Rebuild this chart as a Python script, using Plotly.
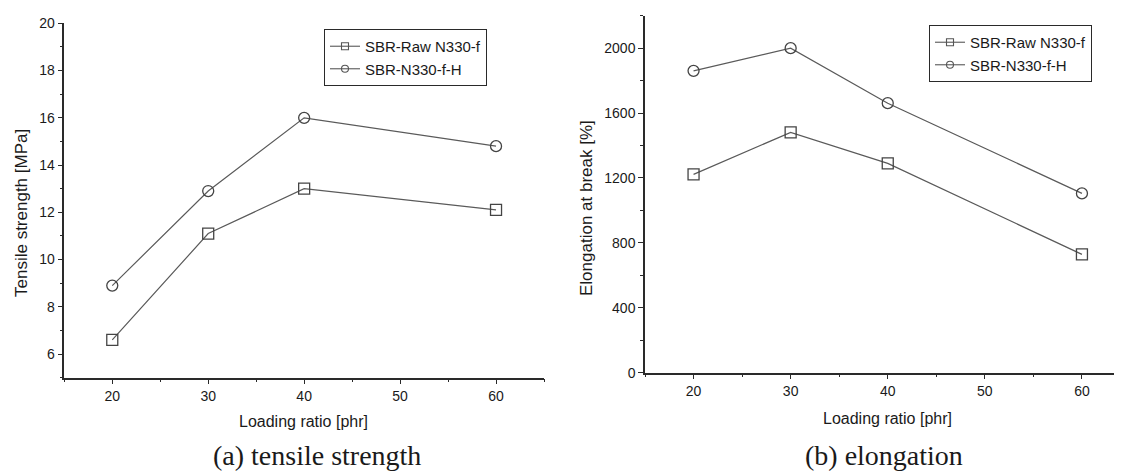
import plotly.graph_objects as go

# ---- data ----
loading = [20, 30, 40, 60]
series_names = ["SBR-Raw N330-f", "SBR-N330-f-H"]
tensile_raw = [6.6, 11.1, 13.0, 12.1]
tensile_h = [8.9, 12.9, 16.0, 14.8]
elong_raw = [1222, 1481, 1290, 729]
elong_h = [1860, 2000, 1661, 1105]

x_ticks = [20, 30, 40, 50, 60]
tensile_ticks = [6, 8, 10, 12, 14, 16, 18, 20]
elong_ticks = [0, 400, 800, 1200, 1600, 2000]

OFF = 8  # page body margin of the html page
W, H = 1122 - OFF, 471 - OFF
LINE = "#5a5a5a"
AX = "#2a2a2a"
TXT = "#1a1a1a"
SANS = "Liberation Sans, Arial"
SERIF = "Liberation Serif, Times New Roman"


def px(x):
    return (x - OFF) / W


def py(y):
    return 1 - (y - OFF) / H


fig = go.Figure()

symbols = ["square-open", "circle-open"]
panels = [
    ("x", "y", "legend", [tensile_raw, tensile_h]),
    ("x2", "y2", "legend2", [elong_raw, elong_h]),
]

for xa, ya, lg, data in panels:
    for name, vals, sym in zip(series_names, data, symbols):
        fig.add_trace(go.Scatter(
            x=loading, y=vals, name=name, mode="lines+markers",
            line=dict(color=LINE, width=1.2),
            marker=dict(symbol=sym, size=11, color="#444444", line=dict(width=1.3, color="#444444")),
            xaxis=xa, yaxis=ya, showlegend=False,
        ))
    # legend entries (small markers as in the original legend)
    for name, sym in zip(series_names, symbols):
        fig.add_trace(go.Scatter(
            x=[None], y=[None], name=name, mode="lines+markers",
            line=dict(color="#666666", width=1.2),
            marker=dict(symbol=sym, size=7, color="#555555", line=dict(width=1.1, color="#555555")),
            xaxis=xa, yaxis=ya, legend=lg, showlegend=True,
        ))

axis_common = dict(
    showline=True, linecolor=AX, linewidth=1.5, showgrid=False, zeroline=False,
    automargin=False,
    ticks="outside", ticklen=5, tickwidth=1.2, tickcolor=AX,
    tickfont=dict(family=SANS, size=14, color=TXT),
)

fig.update_layout(
    template="none",
    width=W, height=H,
    margin=dict(l=0, r=0, t=0, b=0, pad=0),
    paper_bgcolor="white", plot_bgcolor="white",
    showlegend=True,
    xaxis=dict(domain=[px(64.3), px(544)], range=[15, 65], anchor="y",
               tickvals=x_ticks, minor=dict(dtick=5, tick0=15, ticks="outside", ticklen=3, tickcolor=AX),
               **axis_common),
    yaxis=dict(domain=[py(377.7), py(23.3)], range=[5, 20], anchor="x",
               tickvals=tensile_ticks, minor=dict(dtick=1, tick0=5, ticks="outside", ticklen=3, tickcolor=AX),
               **axis_common),
    xaxis2=dict(domain=[px(645), 1.0], range=[15, 15 + (1122 - 645) / 9.71], anchor="y2",
                tickvals=x_ticks, minor=dict(dtick=5, tick0=15, ticks="outside", ticklen=3, tickcolor=AX),
                **axis_common),
    yaxis2=dict(domain=[py(372.7), py(15.7)], range=[0, 2200], anchor="x2",
                tickvals=elong_ticks, minor=dict(dtick=200, tick0=0, ticks="outside", ticklen=3, tickcolor=AX),
                **axis_common),
    legend=dict(x=px(324), y=py(29), xanchor="left", yanchor="top",
                bgcolor="white", bordercolor=AX, borderwidth=1,
                font=dict(family=SANS, size=15, color=TXT),
                tracegroupgap=0, itemsizing="trace"),
    legend2=dict(x=px(929), y=py(25), xanchor="left", yanchor="top",
                 bgcolor="white", bordercolor=AX, borderwidth=1,
                 font=dict(family=SANS, size=15, color=TXT),
                 tracegroupgap=0, itemsizing="trace"),
)

annos = [
    dict(text="Loading ratio [phr]", x=px(303), y=py(421), size=16, family=SANS, angle=0),
    dict(text="Loading ratio [phr]", x=px(887), y=py(418), size=16, family=SANS, angle=0),
    dict(text="Tensile strength [MPa]", x=px(21), y=py(213), size=17, family=SANS, angle=-90),
    dict(text="Elongation at break [%]", x=px(586), y=py(208), size=17, family=SANS, angle=-90),
    dict(text="(a) tensile strength", x=px(317), y=py(455), size=28, family=SERIF, angle=0),
    dict(text="(b) elongation", x=px(884), y=py(455), size=28, family=SERIF, angle=0),
]
for a in annos:
    fig.add_annotation(
        text=a["text"], x=a["x"], y=a["y"], xref="paper", yref="paper",
        xanchor="center", yanchor="middle", showarrow=False, textangle=a["angle"],
        font=dict(family=a["family"], size=a["size"], color=TXT),
    )

fig.write_html("out.html")
